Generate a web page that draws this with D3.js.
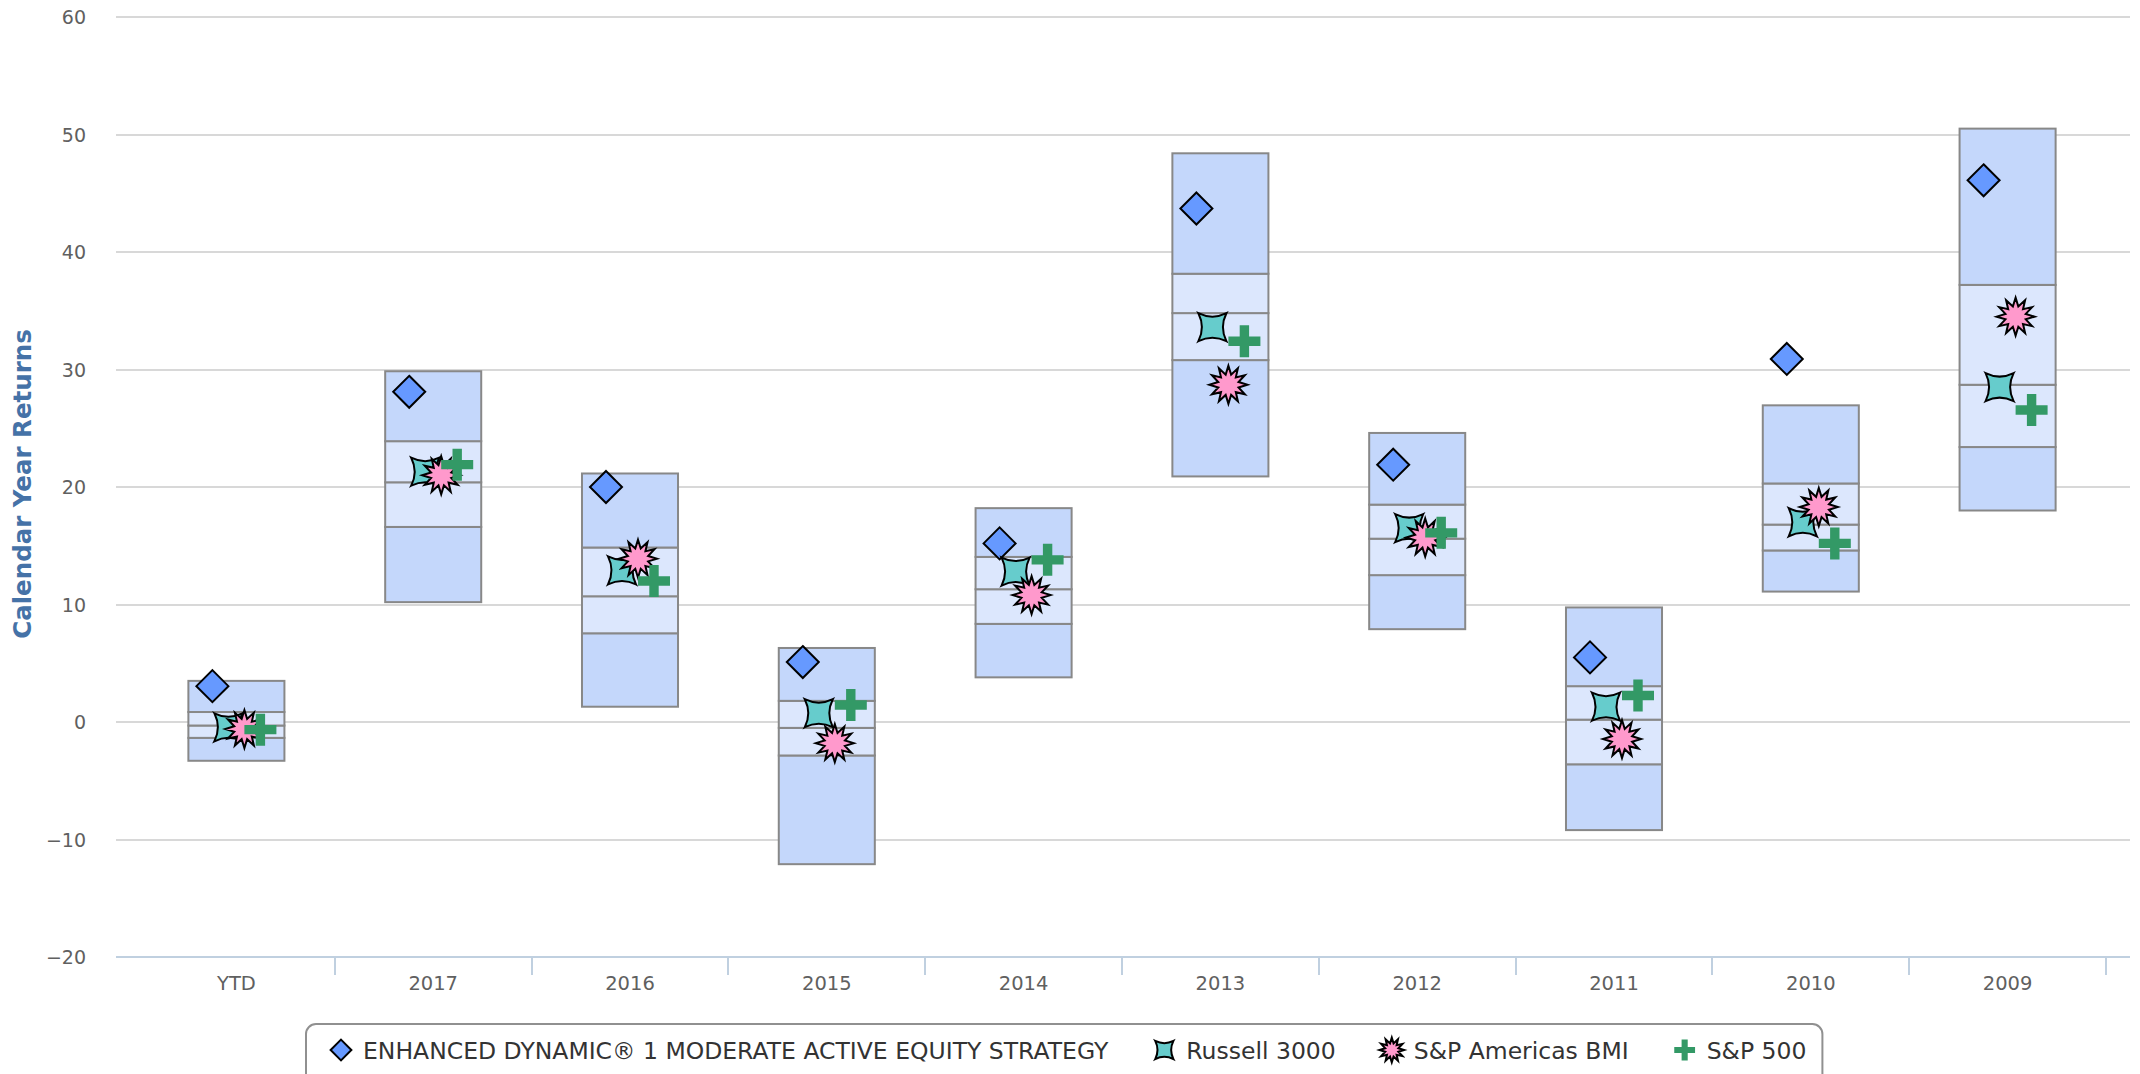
<!DOCTYPE html>
<html>
<head>
<meta charset="utf-8">
<script src="https://cdn.jsdelivr.net/npm/d3@7"></script>
<style>
    html, body { margin: 0; padding: 0; background: #ffffff; }
    svg { display: block; font-family: "DejaVu Sans", sans-serif; }
</style>
</head>
<body>
<div id="chart"></div>
<script>

//Categories along the x axis
const categories = ["YTD", "2017", "2016", "2015", "2014", "2013", "2012", "2011", "2010", "2009"];

//Peer range boxes (5th, 25th, median, 75th, 95th)
const boxLow  = [-3.3, 10.2,  1.3, -12.1,  3.8, 20.9,  7.9, -9.2, 11.1, 18.0];
const boxQ1   = [-1.35, 16.6, 7.55, -2.85, 8.35, 30.8, 12.5, -3.6, 14.6, 23.4];
const boxMed  = [-0.3, 20.4, 10.7, -0.5, 11.3, 34.8, 15.6,  0.2, 16.8, 28.7];
const boxQ3   = [0.85, 23.9, 14.85, 1.8, 14.05, 38.15, 18.5, 3.05, 20.3, 37.2];
const boxHigh = [3.5, 29.85, 21.15, 6.3, 18.2, 48.4, 24.6, 9.75, 26.95, 50.5];

//Series values
const strategy      = [3.05, 28.1, 20.0, 5.1, 15.2, 43.7, 21.9, 5.5, 30.9, 46.1];
const russell3000   = [-0.45, 21.3, 12.9, 0.75, 12.8, 33.6, 16.5, 1.3, 17.0, 28.5];
const spAmericasBmi = [-0.6, 21.0, 13.9, -1.8, 10.8, 28.7, 15.7, -1.45, 18.3, 34.5];
const sp500         = [-0.65, 21.9, 12.0, 1.45, 13.8, 32.4, 16.1, 2.25, 15.2, 26.55];

const seriesNames = ["ENHANCED DYNAMIC\u00AE 1 MODERATE ACTIVE EQUITY STRATEGY", "Russell 3000", "S&P Americas BMI", "S&P 500"];
const yTicks = [-20, -10, 0, 10, 20, 30, 40, 50, 60];

class ReturnsChart {

    constructor ()
    {
        this.width = 2140;
        this.height = 1074;
        this.plot = {left: 116, right: 2130, top: 17, bottom: 957};

        this.svg = d3.select("#chart").append("svg")
            .attr("width", this.width)
            .attr("height", this.height);

        //Scales
        this.x = d3.scaleBand()
            .domain(categories)
            .range([138, 2106])
            .padding(0);

        this.y = d3.scaleLinear()
            .domain([-20, 60])
            .range([this.plot.bottom, this.plot.top]);

        //Offsets of each series inside a category
        this.offset = d3.scalePoint()
            .domain(d3.range(4))
            .range([-24, 24]);

        this.drawAxes();
        this.drawBoxes();
        this.drawMarkers();
        this.drawLegend();
    };

    //Symbol paths
    symbolPath(kind, s)
    {
        if (kind === 0) {
            let r = 16 * s;
            return `M0,${-r}L${r},0L0,${r}L${-r},0Z`;
        }
        if (kind === 1) {
            let r = 14 * s, c = 7 * s;
            return `M${-r},${-r}Q0,${-c} ${r},${-r}Q${c},0 ${r},${r}Q0,${c} ${-r},${r}Q${-c},0 ${-r},${-r}Z`;
        }
        if (kind === 2) {
            let pts = [];
            let n = 12, ro = 19 * s, ri = 10.5 * s;
            for (let i = 0; i < n * 2; i++) {
                let a = Math.PI * i / n - Math.PI / 2;
                let r = i % 2 === 0 ? ro : ri;
                pts.push([Math.cos(a) * r, Math.sin(a) * r]);
            }
            return "M" + pts.map(p => p[0].toFixed(2) + "," + p[1].toFixed(2)).join("L") + "Z";
        }
        let a = 16 * s, t = 4.7 * s;
        return `M${-t},${-a}H${t}V${-t}H${a}V${t}H${t}V${a}H${-t}V${t}H${-a}V${-t}H${-t}Z`;
    };

    symbolStyle(sel, kind)
    {
        let fills = ["#6699ff", "#66cccc", "#ff99cc", "#339966"];
        sel.attr("fill", fills[kind])
            .attr("stroke", kind === 3 ? "none" : "#000000")
            .attr("stroke-width", 2)
            .attr("stroke-linejoin", "miter");
    };

    drawAxes()
    {
        //Grid lines
        this.svg.append("g")
            .selectAll("line")
            .data(yTicks.filter(d => d !== -20))
            .join("line")
            .attr("x1", this.plot.left)
            .attr("x2", this.plot.right)
            .attr("y1", d => Math.round(this.y(d)))
            .attr("y2", d => Math.round(this.y(d)))
            .attr("stroke", "#d8d8d8")
            .attr("stroke-width", 2);

        //Y labels
        this.svg.append("g")
            .selectAll("text")
            .data(yTicks)
            .join("text")
            .attr("x", 86)
            .attr("y", d => this.y(d) + 7)
            .attr("text-anchor", "end")
            .attr("font-size", 19)
            .attr("fill", "#606060")
            .text(d => d < 0 ? "\u2212" + Math.abs(d) : d);

        //Y title
        this.svg.append("text")
            .attr("transform", "translate(31,484) rotate(-90)")
            .attr("text-anchor", "middle")
            .attr("font-size", 24.5)
            .attr("font-weight", "bold")
            .attr("fill", "#4572a7")
            .text("Calendar Year Returns");

        //X axis line and ticks
        let xAxis = this.svg.append("g");
        xAxis.append("line")
            .attr("x1", this.plot.left)
            .attr("x2", this.plot.right)
            .attr("y1", this.plot.bottom)
            .attr("y2", this.plot.bottom)
            .attr("stroke", "#c0d0e0")
            .attr("stroke-width", 2);

        xAxis.selectAll("line.tick")
            .data(categories)
            .join("line")
            .attr("class", "tick")
            .attr("x1", d => Math.round(this.x(d) + this.x.bandwidth()))
            .attr("x2", d => Math.round(this.x(d) + this.x.bandwidth()))
            .attr("y1", this.plot.bottom)
            .attr("y2", this.plot.bottom + 18)
            .attr("stroke", "#c0d0e0")
            .attr("stroke-width", 2);

        xAxis.selectAll("text")
            .data(categories)
            .join("text")
            .attr("x", d => this.x(d) + this.x.bandwidth() / 2)
            .attr("y", 990)
            .attr("text-anchor", "middle")
            .attr("font-size", 19.5)
            .attr("fill", "#606060")
            .text(d => d);
    };

    drawBoxes()
    {
        let bw = this.x.bandwidth() * 0.488;
        let rows = categories.map((c, i) => ({c: c, v: [boxLow[i], boxQ1[i], boxMed[i], boxQ3[i], boxHigh[i]]}));

        let g = this.svg.append("g")
            .selectAll("g")
            .data(rows)
            .join("g")
            .attr("transform", d => `translate(${this.x(d.c) + (this.x.bandwidth() - bw) / 2},0)`);

        //Bands: outer darker, inner lighter
        let fills = ["#c4d7fb", "#dce7fd", "#dce7fd", "#c4d7fb"];
        g.selectAll("rect")
            .data(d => d3.range(4).map(k => ({lo: d.v[k], hi: d.v[k + 1], k: k})))
            .join("rect")
            .attr("x", 0)
            .attr("width", bw)
            .attr("y", d => this.y(d.hi))
            .attr("height", d => this.y(d.lo) - this.y(d.hi))
            .attr("fill", d => fills[d.k])
            .attr("stroke", "#888888")
            .attr("stroke-width", 2);
    };

    drawMarkers()
    {
        let series = [strategy, russell3000, spAmericasBmi, sp500];
        series.forEach((vals, k) => {
            let sel = this.svg.append("g")
                .selectAll("path")
                .data(vals)
                .join("path")
                .attr("transform", (d, i) => `translate(${this.x(categories[i]) + this.x.bandwidth() / 2 + this.offset(k)},${this.y(d)})`)
                .attr("d", this.symbolPath(k, 1));
            this.symbolStyle(sel, k);
        });
    };

    drawLegend()
    {
        let legend = this.svg.append("g");
        let box = legend.append("rect")
            .attr("fill", "#ffffff")
            .attr("stroke", "#909090")
            .attr("stroke-width", 2)
            .attr("rx", 10);

        let items = legend.append("g");
        let gap = 56;
        let xPos = 0;
        seriesNames.forEach((name, k) => {
            let item = items.append("g").attr("transform", `translate(${xPos},0)`);
            let sym = item.append("path")
                .attr("d", this.symbolPath(k, 0.65));
            this.symbolStyle(sym, k);
            let txt = item.append("text")
                .attr("x", 22)
                .attr("y", 8.5)
                .attr("font-size", 23.5)
                .attr("fill", "#333333")
                .text(name);
            xPos += 22 + txt.node().getComputedTextLength() + gap;
        });

        let itemsWidth = xPos - gap;
        let padL = 35, padR = 16;
        let total = itemsWidth + padL + padR;
        let left = Math.round(1064.5 - total / 2);
        box.attr("x", left)
            .attr("y", 1024)
            .attr("width", total)
            .attr("height", 70);
        items.attr("transform", `translate(${left + padL},1050)`);
    };

}

new ReturnsChart();
</script>
</body>
</html>
